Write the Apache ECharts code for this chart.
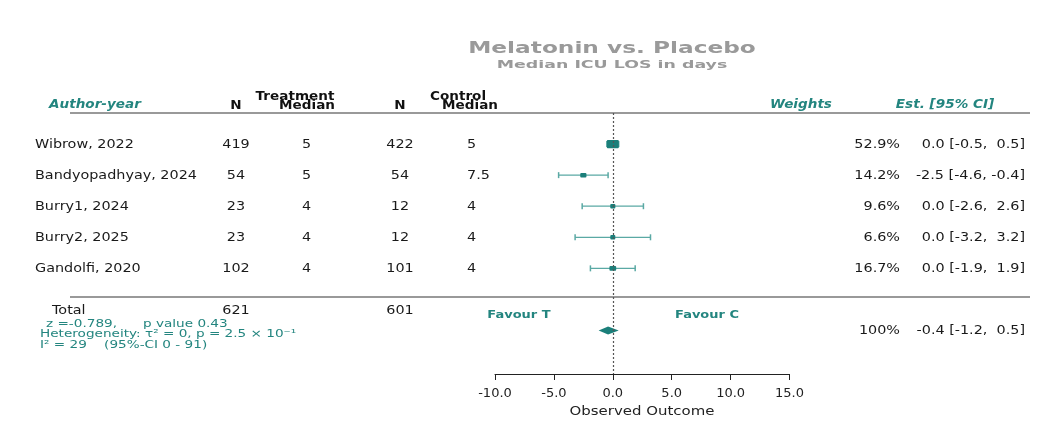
<!DOCTYPE html>
<html>
<head>
<meta charset="utf-8">
<script src="https://cdn.jsdelivr.net/npm/echarts@6/dist/echarts.min.js"></script>
<style>html,body{margin:0;padding:0;background:#fff}#c{width:1061px;height:437px}</style>
</head>
<body>
<div id="c"></div>
<script>
const studies = ['Wibrow, 2022', 'Bandyopadhyay, 2024', 'Burry1, 2024', 'Burry2, 2025', 'Gandolfi, 2020'];
const nTreat = [419, 54, 23, 23, 102];
const medTreat = ['5', '5', '4', '4', '4'];
const nCtrl = [422, 54, 12, 12, 101];
const medCtrl = ['5', '7.5', '4', '4', '4'];
const estimates = [0.0, -2.5, 0.0, 0.0, 0.0];
const ciLow = [-0.5, -4.6, -2.6, -3.2, -1.9];
const ciHigh = [0.5, -0.4, 2.6, 3.2, 1.9];
const weights = [52.9, 14.2, 9.6, 6.6, 16.7];
const totalN = [621, 601];
const totalEst = [-0.4, -1.2, 0.5];
const totalWeight = '100%';
const xTicks = [-10, -5, 0, 5, 10, 15];
const statLines = ['z =-0.789,      p value 0.43', 'Heterogeneity: \u03c4\u00b2 = 0, p = 2.5 \u00d7 10\u207b\u00b9', 'I\u00b2 = 29    (95%-CI 0 - 91)'];

const FONT = 'DejaVu Sans';
const TEAL = '#1b7f7a';
const TEAL_TXT = '#23857f';
const WHISK = '#5aa9a4';
const fmt = v => v.toFixed(1);
const ciText = (e, lo, hi) => fmt(e) + ' [' + fmt(lo) + ', ' + (hi >= 0 ? ' ' : '') + fmt(hi) + ']';

const rows = studies.map((s, i) => i);
const TOTAL_ROW = 5.35;
const DIAMOND_ROW = 6;
const SX = 1.25;

function textColumn(x, yVals, texts, align) {
  return {
    type: 'custom', xAxisIndex: 1, yAxisIndex: 1, silent: true,
    data: yVals.map(y => [x, y]),
    renderItem: function (params, api) {
      const p = api.coord([api.value(0), api.value(1)]);
      return { type: 'text', x: p[0], y: p[1] + 0.5, scaleX: SX,
        style: { text: String(texts[params.dataIndex]), align: align, verticalAlign: 'middle',
          fontFamily: FONT, fontSize: 11.5, fill: '#1a1a1a' } };
    }
  };
}
function label(text, x, y, o) {
  o = o || {};
  return { type: 'text', x: x, y: y, scaleX: o.sx || 1.18,
    style: { text: text, align: o.align || 'center', verticalAlign: 'middle', fontFamily: FONT,
      fontSize: o.size || 11.5, fontWeight: o.weight || 'bold', fontStyle: o.italic ? 'italic' : 'normal',
      fill: o.color || '#111' } };
}

const chart = echarts.init(document.getElementById('c'));
const yAxisBase = { type: 'value', min: -1, max: 7.4, inverse: true, show: false };
chart.setOption({
  animation: false,
  grid: [
    { left: 495, width: 294.5, top: 113, height: 261 },
    { left: 0, right: 0, top: 113, height: 261 }
  ],
  xAxis: [
    { type: 'value', gridIndex: 0, min: xTicks[0], max: xTicks[xTicks.length - 1], interval: xTicks[1] - xTicks[0],
      axisLine: { show: true, onZero: false, lineStyle: { color: '#222', width: 1 } },
      axisTick: { show: true, length: 6, lineStyle: { color: '#222' } },
      splitLine: { show: false },
      axisLabel: { fontFamily: FONT, fontSize: 13, color: '#222', margin: 13, formatter: v => fmt(v) } },
    { type: 'value', gridIndex: 1, min: 0, max: 1061, show: false }
  ],
  yAxis: [Object.assign({ gridIndex: 0 }, yAxisBase), Object.assign({ gridIndex: 1 }, yAxisBase)],
  graphic: [
    label('Melatonin vs. Placebo', 612, 49, { size: 15, sx: 1.55, color: '#9a9a9a' }),
    label('Median ICU LOS in days', 612, 65, { size: 11, sx: 1.58, color: '#9a9a9a' }),
    { type: 'line', shape: { x1: 70, y1: 113, x2: 1030, y2: 113 }, style: { stroke: '#777', lineWidth: 1.5 } },
    { type: 'line', shape: { x1: 70, y1: 297, x2: 1030, y2: 297 }, style: { stroke: '#777', lineWidth: 1.5 } },
    label('Author-year', 49, 105, { align: 'left', italic: true, color: TEAL_TXT }),
    label('N', 236, 106),
    label('Treatment', 295, 97),
    label('Median', 307, 106),
    label('N', 400, 106),
    label('Control', 458, 97),
    label('Median', 470, 106),
    label('Weights', 801, 105, { italic: true, color: TEAL_TXT }),
    label('Est. [95% CI]', 945, 105, { italic: true, color: TEAL_TXT }),
    label('Favour T', 519, 315, { size: 11, color: TEAL_TXT }),
    label('Favour C', 707, 315, { size: 11, color: TEAL_TXT }),
    label(statLines[0], 46, 324, { align: 'left', size: 10, sx: 1.36, weight: 'normal', color: TEAL_TXT }),
    label(statLines[1], 40, 334, { align: 'left', size: 10, sx: 1.36, weight: 'normal', color: TEAL_TXT }),
    label(statLines[2], 40, 345, { align: 'left', size: 10, sx: 1.36, weight: 'normal', color: TEAL_TXT }),
    label('Observed Outcome', 642, 412, { size: 11.5, sx: 1.3, weight: 'normal', color: '#222' })
  ],
  series: [
    {
      type: 'custom', xAxisIndex: 0, yAxisIndex: 0, silent: true,
      data: rows.map(i => [estimates[i], ciLow[i], ciHigh[i], i, weights[i]]),
      renderItem: function (params, api) {
        const y = api.value(3);
        const pLo = api.coord([api.value(1), y]);
        const pHi = api.coord([api.value(2), y]);
        const pE = api.coord([api.value(0), y]);
        const w = Math.sqrt(api.value(4));
        const bw = Math.max(5, 1.65 * w), bh = Math.max(4.5, 1.15 * w);
        const cap = 3;
        return { type: 'group', children: [
          { type: 'line', shape: { x1: pLo[0], y1: pLo[1], x2: pHi[0], y2: pHi[1] }, style: { stroke: WHISK, lineWidth: 1.2 } },
          { type: 'line', shape: { x1: pLo[0], y1: pLo[1] - cap, x2: pLo[0], y2: pLo[1] + cap }, style: { stroke: WHISK, lineWidth: 1.5 } },
          { type: 'line', shape: { x1: pHi[0], y1: pHi[1] - cap, x2: pHi[0], y2: pHi[1] + cap }, style: { stroke: WHISK, lineWidth: 1.5 } },
          { type: 'rect', shape: { x: pE[0] - bw / 2, y: pE[1] - bh / 2, width: bw, height: bh, r: 1 }, style: { fill: TEAL } }
        ] };
      },
      markLine: {
        silent: true, symbol: 'none', label: { show: false },
        lineStyle: { color: '#555', type: [2, 2], width: 1.2 },
        data: [{ xAxis: 0 }]
      }
    },
    {
      type: 'custom', xAxisIndex: 0, yAxisIndex: 0, silent: true,
      data: [[totalEst[0], totalEst[1], totalEst[2], DIAMOND_ROW]],
      renderItem: function (params, api) {
        const y = api.value(3);
        const l = api.coord([api.value(1), y]);
        const r = api.coord([api.value(2), y]);
        const c = api.coord([api.value(0), y]);
        const h = 4;
        return { type: 'polygon', shape: { points: [[l[0], l[1]], [c[0], c[1] - h], [r[0], r[1]], [c[0], c[1] + h]] }, style: { fill: TEAL } };
      }
    },
    textColumn(35, rows, studies, 'left'),
    textColumn(236, rows, nTreat, 'center'),
    textColumn(302, rows, medTreat, 'left'),
    textColumn(400, rows, nCtrl, 'center'),
    textColumn(467, rows, medCtrl, 'left'),
    textColumn(900, rows, weights.map(w => w.toFixed(1) + '%'), 'right'),
    textColumn(1025, rows, rows.map(i => ciText(estimates[i], ciLow[i], ciHigh[i])), 'right'),
    textColumn(52, [TOTAL_ROW], ['Total'], 'left'),
    textColumn(236, [TOTAL_ROW], [totalN[0]], 'center'),
    textColumn(400, [TOTAL_ROW], [totalN[1]], 'center'),
    textColumn(900, [DIAMOND_ROW], [totalWeight], 'right'),
    textColumn(1025, [DIAMOND_ROW], [ciText(totalEst[0], totalEst[1], totalEst[2])], 'right')
  ]
});
</script>
</body>
</html>
